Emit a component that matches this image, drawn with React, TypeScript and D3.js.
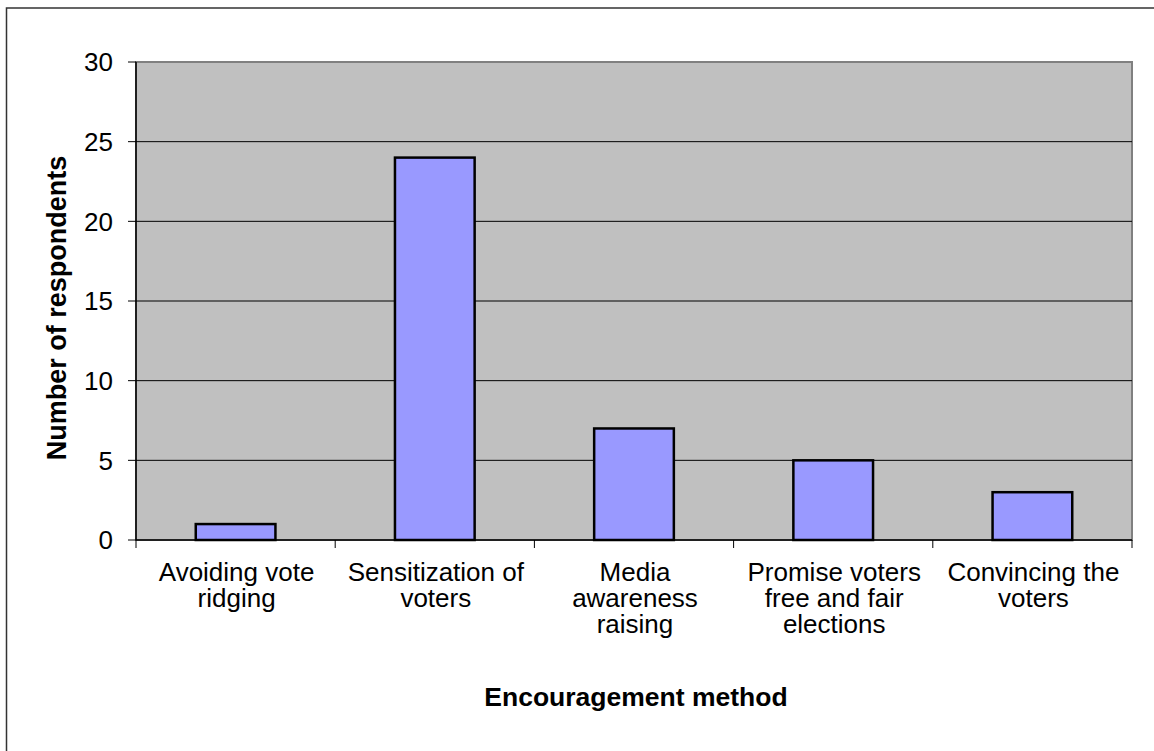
import React from "react";
import * as d3 from "d3";

const categories: string[][] = [
  ["Avoiding vote", "ridging"],
  ["Sensitization of", "voters"],
  ["Media", "awareness", "raising"],
  ["Promise voters", "free and fair", "elections"],
  ["Convincing the", "voters"],
];
const respondents: number[] = [1, 24, 7, 5, 3];
const yTicks: number[] = [0, 5, 10, 15, 20, 25, 30];

const W = 1154;
const H = 751;
const plot = { left: 136, right: 1132, top: 62, bottom: 540 };
const font = "'Liberation Sans', Arial, sans-serif";

export default function App() {
  const keys = categories.map((_, i) => String(i));
  const x = d3.scaleBand<string>().domain(keys).range([plot.left, plot.right]).padding(0);
  const y = d3.scaleLinear().domain([0, 30]).range([plot.bottom, plot.top]);
  const barW = x.bandwidth() * 0.4;
  const boundaries = d3.range(categories.length + 1).map((i) => plot.left + i * x.step());

  return (
    <svg
      width={W}
      height={H}
      style={{ position: "absolute", left: 0, top: 0, background: "#fff" }}
      fontFamily={font}
    >
      {/* outer chart frame */}
      <rect x={6.5} y={8} width={W + 20} height={H + 20} fill="#fff" stroke="#333" strokeWidth={1.5} />

      {/* plot area */}
      <rect
        x={plot.left}
        y={plot.top}
        width={plot.right - plot.left}
        height={plot.bottom - plot.top}
        fill="#C0C0C0"
        stroke="#808080"
        strokeWidth={2}
      />

      {/* gridlines */}
      {yTicks.slice(1, -1).map((t) => (
        <line key={t} x1={plot.left} x2={plot.right} y1={y(t)} y2={y(t)} stroke="#000" strokeWidth={1} />
      ))}

      {/* bars */}
      {respondents.map((v, i) => {
        const cx = (x(String(i)) as number) + x.bandwidth() / 2;
        return (
          <rect
            key={i}
            x={cx - barW / 2}
            y={y(v)}
            width={barW}
            height={y(0) - y(v)}
            fill="#9999FF"
            stroke="#000"
            strokeWidth={2.5}
          />
        );
      })}

      {/* y axis */}
      <line x1={plot.left} x2={plot.left} y1={plot.top} y2={plot.bottom} stroke="#000" strokeWidth={1.5} />
      {yTicks.map((t) => (
        <g key={t}>
          <line x1={plot.left - 8} x2={plot.left} y1={y(t)} y2={y(t)} stroke="#000" strokeWidth={1} />
          <text x={113} y={y(t)} dy="0.36em" textAnchor="end" fontSize={26} fill="#000">
            {t}
          </text>
        </g>
      ))}

      {/* x axis */}
      <line x1={plot.left} x2={plot.right} y1={plot.bottom} y2={plot.bottom} stroke="#000" strokeWidth={1.5} />
      {boundaries.map((bx, i) => (
        <line key={i} x1={bx} x2={bx} y1={plot.bottom} y2={plot.bottom + 8} stroke="#000" strokeWidth={1} />
      ))}
      {categories.map((lines, i) => {
        const cx = (x(String(i)) as number) + x.bandwidth() / 2 + 1;
        return (
          <text key={i} x={cx} y={581} textAnchor="middle" fontSize={26} fill="#000">
            {lines.map((ln, j) => (
              <tspan key={j} x={cx} dy={j === 0 ? 0 : 26}>
                {ln}
              </tspan>
            ))}
          </text>
        );
      })}

      {/* axis titles */}
      <text
        transform={`translate(66, 308) rotate(-90)`}
        textAnchor="middle"
        fontSize={27}
        fontWeight="bold"
        fill="#000"
      >
        Number of respondents
      </text>
      <text x={636} y={706} textAnchor="middle" fontSize={26.5} fontWeight="bold" fill="#000">
        Encouragement method
      </text>
    </svg>
  );
}
